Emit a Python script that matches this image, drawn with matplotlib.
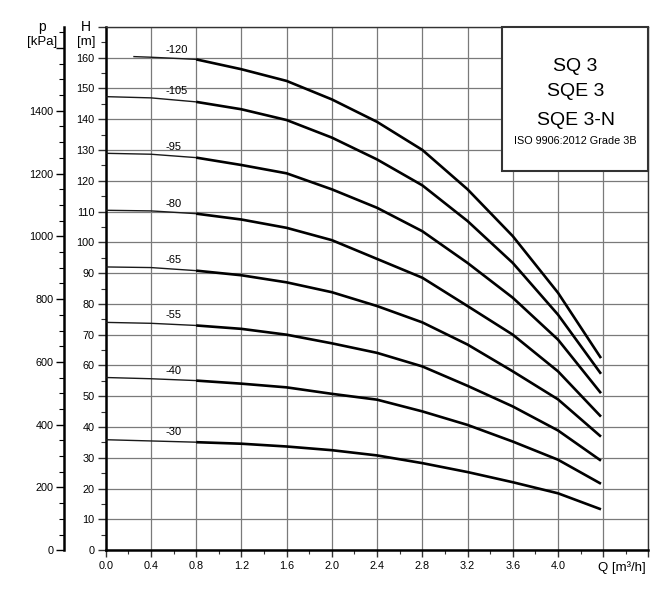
import matplotlib
matplotlib.use("Agg")
import matplotlib.pyplot as plt
from matplotlib.patches import Rectangle
from matplotlib.ticker import FixedLocator, MultipleLocator
import numpy as np

plt.rcParams['font.family'] = ['Liberation Sans', 'DejaVu Sans']

# flow points [m3/h]
q_points = [0.0, 0.4, 0.8, 1.2, 1.6, 2.0, 2.4, 2.8, 3.2, 3.6, 4.0, 4.38]
q_points_120 = [0.25, 0.4, 0.8, 1.2, 1.6, 2.0, 2.4, 2.8, 3.2, 3.6, 4.0, 4.38]

# head [m] for each pump variant
h_30 = [35.9, 35.5, 35.1, 34.6, 33.7, 32.5, 30.8, 28.3, 25.4, 22.1, 18.5, 13.3]
h_40 = [56.1, 55.7, 55.1, 54.1, 52.9, 50.8, 48.9, 45.1, 40.7, 35.3, 29.4, 21.6]
h_55 = [74.0, 73.7, 73.0, 71.9, 70.0, 67.2, 64.1, 59.7, 53.4, 46.7, 38.9, 29.1]
h_65 = [92.0, 91.8, 90.8, 89.3, 87.0, 83.8, 79.3, 74.0, 66.8, 58.1, 49.0, 36.9]
h_80 = [110.4, 110.2, 109.3, 107.4, 104.7, 100.7, 94.6, 88.5, 79.3, 70.0, 58.1, 43.4]
h_95 = [128.9, 128.6, 127.5, 125.1, 122.4, 117.2, 111.2, 103.6, 93.3, 82.0, 68.4, 51.0]
h_105 = [147.3, 146.9, 145.6, 143.2, 139.7, 134.0, 126.9, 118.5, 106.9, 93.3, 76.5, 57.3]
h_120 = [160.3, 160.1, 159.4, 156.2, 152.4, 146.4, 139.1, 130.0, 117.2, 102.0, 83.6, 62.4]

curve_names = ['-30', '-40', '-55', '-65', '-80', '-95', '-105', '-120']
label_heights = [38.4, 58.3, 76.5, 94.2, 112.6, 130.9, 149.1, 162.4]

x_tick_labels = ['0.0', '0.4', '0.8', '1.2', '1.6', '2.0', '2.4', '2.8',
                 '3.2', '3.6', '4.0', '', '']
h_tick_labels = ['0', '10', '20', '30', '40', '50', '60', '70', '80', '90',
                 '100', '110', '120', '130', '140', '150', '160', '']
p_tick_labels = ['0', '200', '400', '600', '800', '1000', '1200', '1400', '']

title_lines = ['SQ 3', 'SQE 3', 'SQE 3-N']
standard_text = 'ISO 9906:2012 Grade 3B'

fig = plt.figure(figsize=(6.72, 5.94), dpi=100)
ax = fig.add_axes([0.1573, 0.0736, 0.8077, 0.8814])
ax.set_xlim(0, 4.8)
ax.set_ylim(0, 170)

# grid
xt = np.arange(0, 4.81, 0.4)
yt = np.arange(0, 171, 10)
ax.xaxis.set_major_locator(FixedLocator(xt))
ax.xaxis.set_minor_locator(MultipleLocator(0.2))
ax.set_xticklabels(x_tick_labels)
ax.yaxis.set_major_locator(FixedLocator(yt))
ax.yaxis.set_minor_locator(MultipleLocator(5))
ax.set_yticklabels(h_tick_labels)
ax.set_axisbelow(True)
ax.grid(True, which='major', color='#7a7a7a', linewidth=0.9)

ax.tick_params(axis='both', which='major', direction='out', labelsize=7.8,
               width=1.0, color='#333333')
ax.tick_params(axis='x', which='major', length=5, pad=3)
ax.tick_params(axis='x', which='minor', length=3, width=0.8, color='#333333')
ax.tick_params(axis='y', which='major', length=5.8, pad=2.3)
ax.tick_params(axis='y', which='minor', length=3.6, width=0.8, color='#333333')

for side in ['left', 'bottom']:
    ax.spines[side].set_linewidth(1.8)
    ax.spines[side].set_color('black')
for side in ['top', 'right']:
    ax.spines[side].set_linewidth(1.0)
    ax.spines[side].set_color('#333333')

# pressure axis on the far left
pax = ax.secondary_yaxis(-0.076, functions=(lambda h: h * 9.81, lambda p: p / 9.81))
pax.yaxis.set_major_locator(FixedLocator(np.arange(0, 1601, 200)))
pax.yaxis.set_minor_locator(MultipleLocator(50))
pax.set_yticklabels(p_tick_labels)
pax.spines['left'].set_linewidth(1.8)
pax.tick_params(axis='y', which='major', direction='out', length=5.8, width=1.0,
                labelsize=7.8, pad=2.2)
pax.tick_params(axis='y', which='minor', direction='out', length=3.6, width=0.8)

# pump curves: thin up to 0.8 m3/h, thick after
all_heads = [h_30, h_40, h_55, h_65, h_80, h_95, h_105, h_120]
for name, heads, lab_h in zip(curve_names, all_heads, label_heights):
    qs = q_points_120 if name == '-120' else q_points
    qs = np.array(qs)
    hs = np.array(heads)
    thin = qs <= 0.8
    thick = qs >= 0.8
    ax.plot(qs[thin], hs[thin], color='#1a1a1a', linewidth=1.0, zorder=4)
    ax.plot(qs[thick], hs[thick], color='black', linewidth=1.9, zorder=4,
            solid_capstyle='butt')
    ax.text(0.53, lab_h, name, fontsize=8, ha='left', va='center', zorder=5)

# info box top right
box = Rectangle((3.507, 123.3), 4.8 - 3.507, 170 - 123.3, facecolor='white',
                edgecolor='#333333', linewidth=1.5, zorder=3, clip_on=False)
ax.add_patch(box)
for txt, yy in zip(title_lines, [157.0, 148.9, 139.4]):
    ax.text(4.155, yy, txt, fontsize=14, ha='center', va='center', zorder=5)
ax.text(4.155, 132.9, standard_text, fontsize=7.8, ha='center', va='center', zorder=5)

# axis unit labels
ytr = ax.get_yaxis_transform()
xtr = ax.get_xaxis_transform()
ax.text(-0.0276, 170.0, 'H', transform=ytr, fontsize=10, ha='right', va='center')
ax.text(-0.018, 165.2, '[m]', transform=ytr, fontsize=9.5, ha='right', va='center')
ax.text(-0.118, 169.8, 'p', transform=ytr, fontsize=10, ha='center', va='center')
ax.text(-0.0892, 165.2, '[kPa]', transform=ytr, fontsize=9.5, ha='right', va='center')
ax.text(4.356, -0.0325, 'Q [m³/h]', transform=xtr, fontsize=9.5, ha='left', va='center')

fig.savefig('out.png', dpi=100)
